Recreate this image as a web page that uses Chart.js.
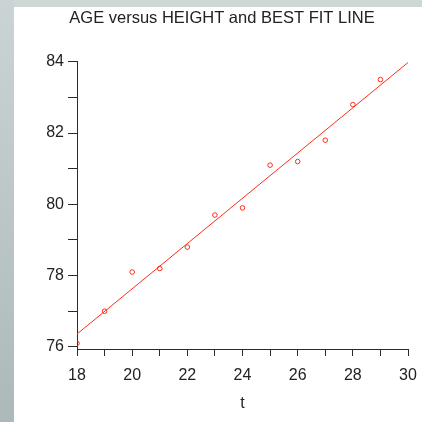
<!DOCTYPE html>
<html>
<head>
<meta charset="utf-8">
<script src="https://cdn.jsdelivr.net/npm/chart.js@4"></script>
<style>
  html, body { margin: 0; padding: 0; background: #fff; overflow: hidden; }
  #wrap { position: relative; width: 422px; height: 422px; overflow: hidden; background: #fff; }
  #topStrip { position: absolute; left: 0; top: 0; width: 422px; height: 7px; background: #cfd7d7; }
  #leftStrip { position: absolute; left: 0; top: 0; width: 14px; height: 422px;
    background: linear-gradient(#cbd4d4, #adb9b9); }
  #chart { position: absolute; left: 14px; top: 7px; }
</style>
</head>
<body>
<div id="wrap">
  <div id="topStrip"></div>
  <div id="leftStrip"></div>
  <canvas id="chart" width="408" height="415"></canvas>
</div>
<script>
const ages = [18, 19, 20, 21, 22, 23, 24, 25, 26, 27, 28, 29];
const heights = [76.1, 77.0, 78.1, 78.2, 78.8, 79.7, 79.9, 81.1, 81.2, 81.8, 82.8, 83.5];
const fitX = [18, 30];
const fitY = [76.36, 83.98];
const xTickValues = [18, 19, 20, 21, 22, 23, 24, 25, 26, 27, 28, 29, 30];
const xLabels = [18, 20, 22, 24, 26, 28, 30];
const yTickValues = [76, 77, 78, 79, 80, 81, 82, 83, 84];
const yLabels = [76, 78, 80, 82, 84];

const red = 'rgb(255, 45, 25)';
const axisColor = '#2b2b2b';
const font = { family: 'Liberation Sans, Arial, sans-serif', size: 16 };

const ctx = document.getElementById('chart').getContext('2d');
new Chart(ctx, {
    type: 'scatter',
    data: {
        datasets: [
            {
                label: 'fit',
                data: fitX.map((x, i) => ({ x: x, y: fitY[i] })),
                showLine: true,
                borderColor: red,
                borderWidth: 1,
                pointRadius: 0,
                fill: false
            },
            {
                label: 'data',
                data: ages.map((x, i) => ({ x: x, y: heights[i] })),
                pointStyle: 'circle',
                pointRadius: 2.3,
                borderWidth: 1,
                borderColor: red,
                backgroundColor: 'rgba(0,0,0,0)'
            }
        ]
    },
    options: {
        responsive: false,
        animation: false,
        devicePixelRatio: 1,
        layout: { padding: { left: 22, right: 14, top: 0, bottom: 0 } },
        plugins: {
            legend: { display: false },
            tooltip: { enabled: false },
            title: {
                display: true,
                text: 'AGE versus HEIGHT and BEST FIT LINE',
                color: '#222',
                font: { family: font.family, size: 16.5, weight: 'normal' },
                padding: { top: 2, bottom: 33 }
            }
        },
        scales: {
            x: {
                type: 'linear',
                min: 18,
                max: 30,
                afterBuildTicks: s => { s.ticks = xTickValues.map(v => ({ value: v })); },
                afterFit: s => { s.height = 73; s.paddingRight = 0; s.paddingLeft = 0; },
                ticks: {
                    autoSkip: false,
                    maxRotation: 0,
                    padding: 10,
                    color: '#222',
                    font: font,
                    callback: v => xLabels.includes(v) ? String(v) : ''
                },
                grid: { drawOnChartArea: false, tickLength: 7, color: axisColor },
                border: { display: true, color: axisColor, width: 1 },
                title: {
                    display: true,
                    text: 't',
                    color: '#222',
                    font: font,
                    padding: { top: 0, bottom: 9 }
                }
            },
            y: {
                type: 'linear',
                min: 75.94,
                max: 84,
                afterBuildTicks: s => { s.ticks = yTickValues.map(v => ({ value: v })); },
                afterFit: s => { s.width = 41; },
                ticks: {
                    autoSkip: false,
                    padding: 4,
                    color: '#222',
                    font: font,
                    callback: v => yLabels.includes(v) ? String(v) : ''
                },
                grid: { drawOnChartArea: false, tickLength: 9, color: axisColor },
                border: { display: true, color: axisColor, width: 1 }
            }
        }
    }
});
</script>
</body>
</html>
